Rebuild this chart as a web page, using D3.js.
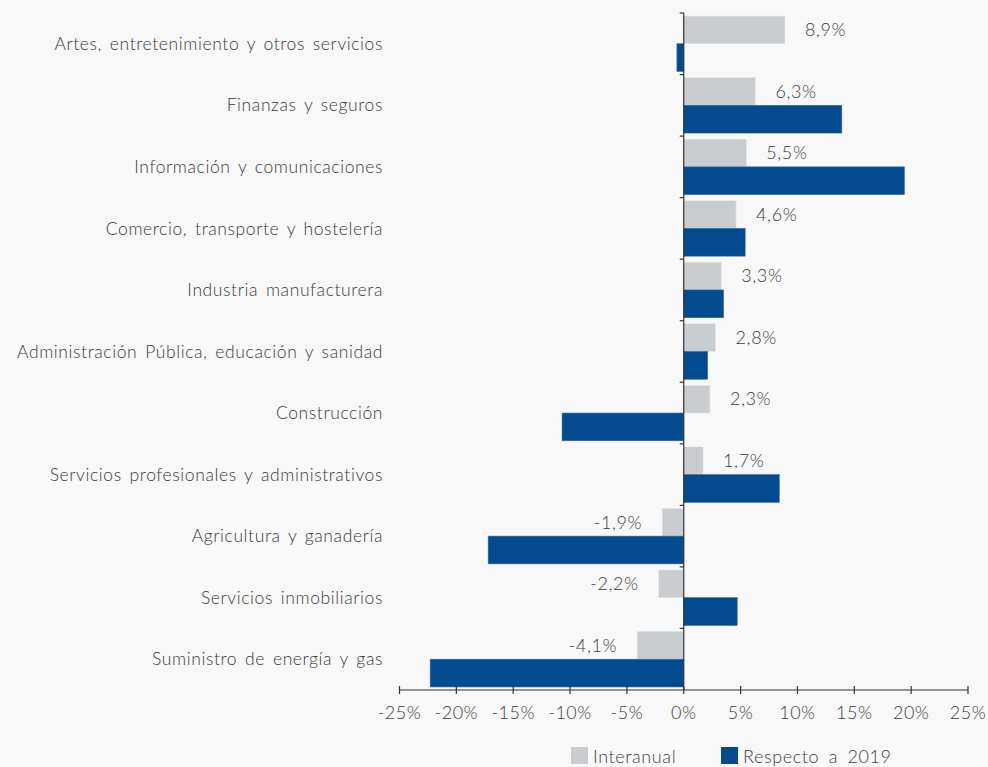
<!DOCTYPE html>
<html><head><meta charset="utf-8">
<script src="https://cdn.jsdelivr.net/npm/d3@7"></script>
<style>
html,body{margin:0;padding:0;background:#f8f8f8;}
svg{display:block;font-family:"Lato","Open Sans",sans-serif;font-weight:300;}
</style></head>
<body>
<svg id="chart" width="988" height="767"></svg>
<script>
const categories = [
  "Artes, entretenimiento y otros servicios",
  "Finanzas y seguros",
  "Información y comunicaciones",
  "Comercio, transporte y hostelería",
  "Industria manufacturera",
  "Administración Pública, educación y sanidad",
  "Construcción",
  "Servicios profesionales y administrativos",
  "Agricultura y ganadería",
  "Servicios inmobiliarios",
  "Suministro de energía y gas"
];
const interanual = [8.9, 6.3, 5.5, 4.6, 3.3, 2.8, 2.3, 1.7, -1.9, -2.2, -4.1];
const respecto2019 = [-0.6, 13.9, 19.4, 5.4, 3.5, 2.1, -10.7, 8.4, -17.2, 4.7, -22.3];
const xTicks = [-25, -20, -15, -10, -5, 0, 5, 10, 15, 20, 25];
const seriesNames = ["Interanual", "Respecto a 2019"];
const colors = ["#c9cdd0", "#044a8f"];

const svg = d3.select("#chart");
const x = d3.scaleLinear().domain([-25, 25]).range([399.5, 968]);
const y = d3.scaleBand().domain(categories).range([13, 690]);
const inner = d3.scaleBand().domain([0, 1]).range([0, y.bandwidth()]).paddingOuter(0.11).paddingInner(0);
const fmt = v => (v < 0 ? "-" : "") + d3.format(".1f")(Math.abs(v)).replace(".", ",") + "%";

// bars
const g = svg.append("g");
categories.forEach((c, i) => {
  [interanual[i], respecto2019[i]].forEach((v, k) => {
    g.append("rect")
      .attr("x", x(Math.min(0, v)))
      .attr("y", y(c) + inner(k))
      .attr("width", Math.abs(x(v) - x(0)))
      .attr("height", inner.bandwidth())
      .attr("fill", colors[k])
      .attr("stroke", k === 0 ? "#e4e6e8" : "#2f64a6")
      .attr("stroke-width", 0.6);
  });
});

// labels for interanual
categories.forEach((c, i) => {
  const v = interanual[i];
  svg.append("text")
    .attr("x", v >= 0 ? x(v) + 20 : x(v) - 20)
    .attr("y", y(c) + inner(0) + inner.bandwidth() / 2)
    .attr("dy", "0.35em")
    .attr("text-anchor", v >= 0 ? "start" : "end")
    .attr("font-size", 18)
    .attr("letter-spacing", 0.6)
    .attr("fill", "#404040")
    .text(fmt(v));
});

// x axis
const xAxis = svg.append("g").attr("transform", "translate(0,690)");
xAxis.append("line").attr("x1", x(-25)).attr("x2", x(25)).attr("stroke", "#333").attr("stroke-width", 1.2);
xTicks.forEach(t => {
  xAxis.append("line").attr("x1", x(t)).attr("x2", x(t)).attr("y1", -4).attr("y2", 4).attr("stroke", "#333").attr("stroke-width", 1.2);
  xAxis.append("text").attr("x", x(t)).attr("y", 29).attr("text-anchor", "middle")
    .attr("font-size", 18).attr("letter-spacing", 0.5).attr("fill", "#404040").text(t + "%");
});

// y axis at zero
const yAxis = svg.append("g");
yAxis.append("line").attr("x1", x(0)).attr("x2", x(0)).attr("y1", 13).attr("y2", 690).attr("stroke", "#333").attr("stroke-width", 1.2);
categories.forEach((c, i) => {
  yAxis.append("line").attr("x1", x(0) - 4).attr("x2", x(0)).attr("y1", y(c)).attr("y2", y(c)).attr("stroke", "#333").attr("stroke-width", 1.2);
  yAxis.append("text").attr("x", 383).attr("y", y(c) + y.bandwidth() / 2).attr("dy", "0.35em")
    .attr("text-anchor", "end").attr("font-size", 17.5)
    .attr("letter-spacing", 0.6).attr("word-spacing", 2.5)
    .attr("fill", "#3a3a3a").text(c);
});

// legend
const legend = svg.append("g");
const legX = [571, 721];
seriesNames.forEach((n, k) => {
  legend.append("rect").attr("x", legX[k]).attr("y", 747).attr("width", 17).attr("height", 17).attr("fill", colors[k]);
  legend.append("text").attr("x", legX[k] + 22).attr("y", 757).attr("dy", "0.35em")
    .attr("font-size", 18).attr("letter-spacing", 0.6).attr("word-spacing", 4)
    .attr("fill", "#404040").text(n);
});
</script>
</body></html>
